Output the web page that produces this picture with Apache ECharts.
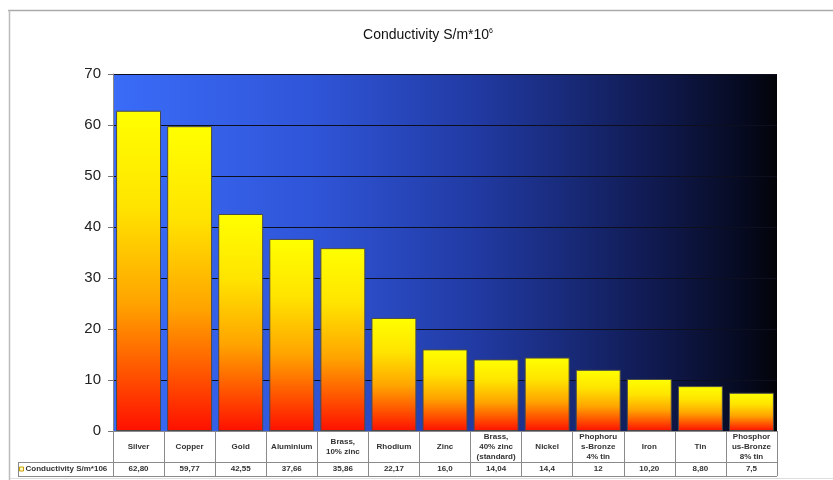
<!DOCTYPE html>
<html>
<head>
<meta charset="utf-8">
<script src="https://cdn.jsdelivr.net/npm/echarts@6/dist/echarts.min.js"></script>
<style>html,body{margin:0;padding:0;background:#fff}#c{width:833px;height:480px}</style>
</head>
<body>
<div id="c"></div>
<script>
var categories = ['Silver','Copper','Gold','Aluminium','Brass,\n10% zinc','Rhodium','Zinc','Brass,\n40% zinc\n(standard)','Nickel','Phophoru\ns-Bronze\n4% tin','Iron','Tin','Phosphor\nus-Bronze\n8% tin'];
var values = [62.80, 59.77, 42.55, 37.66, 35.86, 22.17, 16.0, 14.04, 14.4, 12, 10.20, 8.80, 7.5];
var valueLabels = ['62,80','59,77','42,55','37,66','35,86','22,17','16,0','14,04','14,4','12','10,20','8,80','7,5'];
var seriesName = 'Conductivity S/m*106';
var yTicks = [0,10,20,30,40,50,60,70];

var chart = echarts.init(document.getElementById('c'));
var G = echarts.graphic;
var tableColor = '#8a8a8a';
chart.setOption({
  animation: false,
  backgroundColor: '#fff',
  title: {
    text: '{a|Conductivity S/m*10}{s|6}',
    left: 423, top: 23, textAlign: 'center',
    textStyle: { fontWeight: 'normal', rich: {
      a: { fontFamily: 'Liberation Sans', fontSize: 14, fontWeight: 'normal', color: '#111', verticalAlign: 'bottom' },
      s: { fontFamily: 'Liberation Sans', fontSize: 7, fontWeight: 'normal', color: '#111', verticalAlign: 'top', padding: [0,0,7,0] }
    } }
  },
  legend: {
    left: 19, top: 465, itemWidth: 4, itemHeight: 4, itemGap: 2,
    icon: 'rect', padding: 0,
    textStyle: { fontFamily: 'Liberation Sans', fontSize: 8, fontWeight: 'bold', color: '#333', padding: [0,0,0,-3] },
    data: [{ name: seriesName, itemStyle: { color: '#fff8c0', borderColor: '#c8a000', borderWidth: 1 } }]
  },
  grid: {
    left: 113, right: 56, top: 74, bottom: 49, show: true, borderWidth: 0,
    backgroundColor: new G.LinearGradient(0, 0, 1, 0, [
      { offset: 0, color: '#3a6cf8' },
      { offset: 0.3, color: '#2f55d8' },
      { offset: 0.55, color: '#213aa2' },
      { offset: 0.8, color: '#111c55' },
      { offset: 0.95, color: '#060a20' },
      { offset: 1, color: '#020308' }
    ])
  },
  xAxis: [{
    type: 'category', data: categories, position: 'bottom',
    axisLine: { show: true, lineStyle: { color: tableColor, width: 1 } },
    axisTick: { show: true, length: 45, lineStyle: { color: tableColor, width: 1 } },
    axisLabel: { margin: 16, interval: 0, fontFamily: 'Liberation Sans', fontSize: 8, fontWeight: 'bold', color: '#333', lineHeight: 10, verticalAlign: 'middle' }
  }, {
    type: 'category', data: categories, position: 'bottom', offset: 31,
    axisLine: { show: false }, axisTick: { show: false },
    axisLabel: { margin: 3, interval: 0, fontFamily: 'Liberation Sans', fontSize: 8, fontWeight: 'bold', color: '#333',
      formatter: function (v, i) { return valueLabels[i]; } }
  }],
  yAxis: {
    type: 'value', min: 0, max: 70, interval: 10,
    axisLine: { show: true, lineStyle: { color: '#888' } },
    axisTick: { show: true, length: 5, lineStyle: { color: '#777' } },
    axisLabel: { fontFamily: 'Liberation Sans', fontSize: 15, color: '#222', margin: 12,
      formatter: function (v) { return yTicks.indexOf(v) >= 0 ? String(v) : ''; } },
    splitLine: { show: true, lineStyle: { color: '#0d0f1e', width: 1 } }
  },
  series: [{
    name: seriesName, type: 'bar', data: values, barCategoryGap: '12%',
    itemStyle: {
      borderColor: '#4a4a4a', borderWidth: 1,
      color: new G.LinearGradient(0, 0, 0, 1, [
        { offset: 0, color: '#ffff00' },
        { offset: 0.3, color: '#ffe400' },
        { offset: 0.6, color: '#ffa400' },
        { offset: 1, color: '#ff1000' }
      ])
    }
  }],
  graphic: [
    { type: 'line', shape: { x1: 8, y1: 10.5, x2: 833, y2: 10.5 }, style: { stroke: '#aaa', lineWidth: 1.5 } },
    { type: 'line', shape: { x1: 9.5, y1: 10, x2: 9.5, y2: 480 }, style: { stroke: '#bbb', lineWidth: 1.5 } },
    { type: 'line', shape: { x1: 18, y1: 462.5, x2: 777, y2: 462.5 }, style: { stroke: tableColor, lineWidth: 1 } },
    { type: 'line', shape: { x1: 18, y1: 476.5, x2: 777, y2: 476.5 }, style: { stroke: tableColor, lineWidth: 1 } },
    { type: 'line', shape: { x1: 18.5, y1: 462, x2: 18.5, y2: 477 }, style: { stroke: tableColor, lineWidth: 1 } },
    { type: 'line', shape: { x1: 10, y1: 478.5, x2: 833, y2: 478.5 }, style: { stroke: '#ddd', lineWidth: 1 } }
  ]
});
</script>
</body>
</html>
